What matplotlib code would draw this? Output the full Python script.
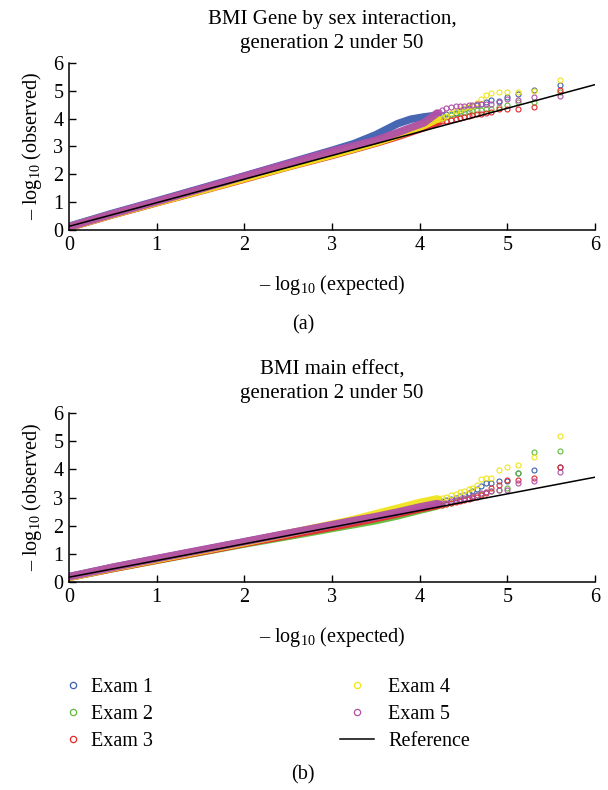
import matplotlib.pyplot as plt
from matplotlib.lines import Line2D

plt.rcParams['font.family'] = ['Liberation Serif', 'DejaVu Serif']
plt.rcParams['mathtext.fontset'] = 'custom'
plt.rcParams['mathtext.rm'] = 'Liberation Serif'
plt.rcParams['mathtext.default'] = 'regular'

exam_names = ['Exam 1', 'Exam 2', 'Exam 3', 'Exam 4', 'Exam 5']
exam_colors = ['#3d5fae', '#62bb3a', '#e8282c', '#f0e41c', '#b150a8']

# ---- panel (a): gene by sex interaction ----
title_a = 'BMI Gene by sex interaction,\ngeneration 2 under 50'
dense_x_a = [0.02, 0.5, 1.0, 1.5, 2.0, 2.5, 3.0, 3.25, 3.5, 3.75, 3.9, 4.05, 4.2]
dense_y_a = [
    [0.15, 0.60, 1.04, 1.49, 1.94, 2.40, 2.86, 3.10, 3.42, 3.82, 3.98, 4.06, 4.12],
    [0.12, 0.56, 0.99, 1.42, 1.86, 2.30, 2.72, 2.94, 3.18, 3.45, 3.62, 3.80, 3.98],
    [0.11, 0.55, 0.98, 1.40, 1.83, 2.27, 2.68, 2.90, 3.12, 3.36, 3.52, 3.68, 3.86],
    [0.12, 0.56, 0.99, 1.41, 1.85, 2.28, 2.70, 2.92, 3.14, 3.40, 3.57, 3.76, 3.98],
    [0.13, 0.58, 1.02, 1.47, 1.93, 2.38, 2.83, 3.02, 3.22, 3.50, 3.68, 3.85, 4.20],
]
tail_x_a = [4.22, 4.26, 4.3, 4.36, 4.41, 4.46, 4.51, 4.56, 4.6, 4.65, 4.7, 4.76,
            4.82, 4.9, 5.0, 5.12, 5.3, 5.6]
tail_y_a = [
    [4.12, 4.14, 4.15, 4.18, 4.22, 4.28, 4.33, 4.38, 4.45, 4.50, 4.54, 4.60, 4.66, 4.64, 4.76, 4.90, 5.04, 5.21],
    [3.99, 4.02, 4.05, 4.12, 4.17, 4.20, 4.24, 4.26, 4.28, 4.30, 4.31, 4.33, 4.36, 4.42, 4.48, 4.60, 4.60, 4.95],
    [3.87, 3.90, 3.92, 3.96, 4.00, 4.03, 4.06, 4.10, 4.12, 4.15, 4.17, 4.20, 4.24, 4.34, 4.34, 4.36, 4.42, 5.02],
    [3.99, 4.04, 4.10, 4.20, 4.26, 4.32, 4.38, 4.42, 4.45, 4.55, 4.72, 4.84, 4.92, 4.96, 4.96, 4.97, 5.00, 5.40],
    [4.25, 4.32, 4.38, 4.42, 4.44, 4.46, 4.47, 4.48, 4.50, 4.52, 4.52, 4.54, 4.52, 4.60, 4.70, 4.68, 4.78, 4.81],
]
ref_x_a = [0, 6]
ref_y_a = [0.13, 5.22]

# ---- panel (b): main effect ----
title_b = 'BMI main effect,\ngeneration 2 under 50'
dense_x_b = [0.02, 0.5, 1.0, 1.5, 2.0, 2.5, 3.0, 3.25, 3.5, 3.75, 4.0, 4.2]
dense_y_b = [
    [0.20, 0.52, 0.82, 1.12, 1.42, 1.72, 2.02, 2.17, 2.33, 2.50, 2.68, 2.82],
    [0.18, 0.48, 0.77, 1.06, 1.35, 1.62, 1.90, 2.04, 2.18, 2.35, 2.55, 2.70],
    [0.18, 0.48, 0.78, 1.07, 1.37, 1.66, 1.95, 2.10, 2.26, 2.42, 2.60, 2.72],
    [0.18, 0.50, 0.80, 1.10, 1.40, 1.72, 2.05, 2.22, 2.42, 2.62, 2.82, 2.95],
    [0.20, 0.52, 0.83, 1.13, 1.43, 1.73, 2.03, 2.18, 2.32, 2.48, 2.66, 2.78],
]
tail_x_b = [4.22, 4.26, 4.3, 4.36, 4.41, 4.46, 4.51, 4.56, 4.6, 4.65, 4.7, 4.76,
            4.82, 4.9, 5.0, 5.12, 5.3, 5.6]
tail_y_b = [
    [2.84, 2.87, 2.90, 2.95, 3.00, 3.05, 3.10, 3.15, 3.22, 3.29, 3.40, 3.50, 3.52, 3.58, 3.60, 3.86, 3.96, 4.08],
    [2.72, 2.75, 2.78, 2.82, 2.86, 2.90, 2.94, 2.98, 3.02, 3.08, 3.12, 3.18, 3.22, 3.26, 3.35, 3.88, 4.63, 4.65],
    [2.73, 2.75, 2.78, 2.80, 2.83, 2.86, 2.90, 2.94, 2.98, 3.02, 3.10, 3.17, 3.35, 3.44, 3.62, 3.62, 3.68, 4.10],
    [2.96, 2.99, 3.02, 3.08, 3.12, 3.18, 3.24, 3.30, 3.35, 3.46, 3.66, 3.70, 3.70, 3.97, 4.08, 4.14, 4.45, 5.17],
    [2.79, 2.80, 2.82, 2.86, 2.90, 2.94, 2.97, 3.00, 3.04, 3.10, 3.15, 3.20, 3.23, 3.26, 3.26, 3.52, 3.58, 3.92],
]
ref_x_b = [0, 6]
ref_y_b = [0.17, 3.72]

ticks = [0, 1, 2, 3, 4, 5, 6]

fig = plt.figure(figsize=(6.08, 7.90), dpi=100)
ax_a = fig.add_axes([0.1135, 0.7089, 0.865, 0.2114])
ax_b = fig.add_axes([0.1135, 0.2633, 0.865, 0.2139])


def draw_panel(ax, title, dx, dys, tx, tys, rx, ry):
    for i in range(5):
        ax.plot(dx, dys[i], '-', color=exam_colors[i], lw=5.5,
                solid_capstyle='round', alpha=0.95)
        ax.plot(tx, tys[i], 'o', ls='none', mfc='none', mec=exam_colors[i],
                ms=3.6, mew=0.8)
    ax.plot(rx, ry, color='black', lw=1.1)
    ax.set_xlim(0, 6)
    ax.set_ylim(0, 6)
    ax.set_xticks(ticks)
    ax.set_yticks(ticks)
    ax.spines['top'].set_visible(False)
    ax.spines['right'].set_visible(False)
    ax.spines['left'].set_linewidth(1.1)
    ax.spines['bottom'].set_linewidth(1.1)
    ax.tick_params(direction='in', length=5, width=1, labelsize=14.5, pad=4)
    ax.set_xlabel('– log$_{10}$ (expected)', fontsize=14.5, labelpad=13)
    ax.set_ylabel('– log$_{10}$ (observed)', fontsize=14.5, labelpad=7)
    ax.set_title(title, fontsize=15, linespacing=1.3, pad=11)


draw_panel(ax_a, title_a, dense_x_a, dense_y_a, tail_x_a, tail_y_a, ref_x_a, ref_y_a)
draw_panel(ax_b, title_b, dense_x_b, dense_y_b, tail_x_b, tail_y_b, ref_x_b, ref_y_b)

fig.text(303 / 608, 1 - 325 / 790, '(a)', ha='center', va='center', fontsize=14.5)
fig.text(303 / 608, 1 - 775 / 790, '(b)', ha='center', va='center', fontsize=14.5)

handles = [Line2D([], [], ls='none', marker='o', mfc='none', mec=c, ms=4.5, mew=0.9)
           for c in exam_colors]
handles.append(Line2D([], [], color='black', lw=1.1))
labels = exam_names + ['Reference']
leg1 = fig.legend(handles[:3], labels[:3], loc='upper left',
                  bbox_to_anchor=(63 / 608, 0.142), frameon=False, fontsize=14.5,
                  handlelength=1.0, handletextpad=0.4, labelspacing=0.4,
                  borderpad=0, borderaxespad=0)
leg2 = fig.legend(handles[3:], labels[3:], loc='upper left',
                  bbox_to_anchor=(340 / 608, 0.142), frameon=False, fontsize=14.5,
                  handlelength=1.69, handletextpad=0.7, labelspacing=0.4,
                  borderpad=0, borderaxespad=0)

plt.savefig('out.png', dpi=100)
